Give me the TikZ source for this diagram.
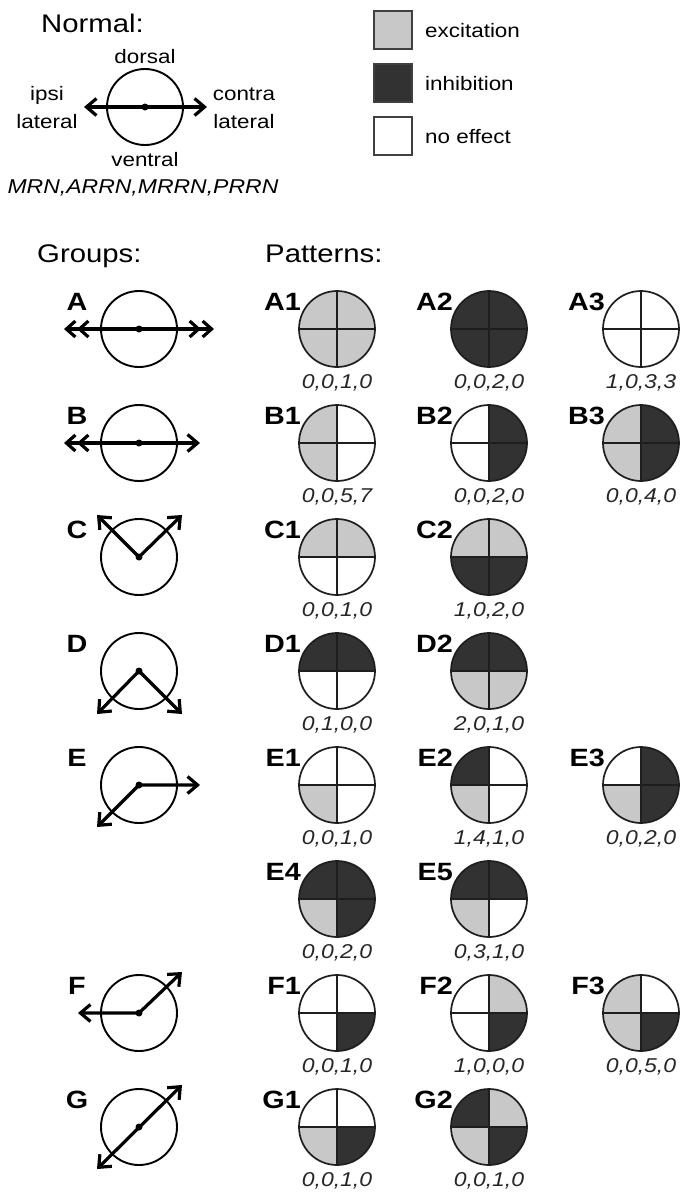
\documentclass[tikz,border=0pt]{standalone}
\usepackage{fontspec}
\setmainfont[FakeStretch=1.15]{Liberation Sans}
\usetikzlibrary{arrows.meta,calc}
\definecolor{exc}{RGB}{200,200,200}
\definecolor{inh}{RGB}{50,50,50}
\definecolor{noe}{RGB}{255,255,255}
\definecolor{rim}{RGB}{30,30,30}
\tikzset{
  txt/.style={inner sep=0pt, font=\fontsize{19.5}{19.5}\selectfont},
  head/.style={inner sep=0pt, font=\fontsize{25.5}{25.5}\selectfont},
  glab/.style={inner sep=0pt, font=\fontsize{25}{25}\selectfont\bfseries},
  nums/.style={inner sep=0pt, font=\fontsize{20}{20}\selectfont\itshape, text=black!85},
  pcirc/.style={circle, draw=rim, line width=1.7pt, minimum size=76pt, inner sep=0pt},
  gcirc/.style={circle, draw=black, line width=1.9pt, minimum size=76pt, inner sep=0pt},
  quad/.style={draw=rim, line width=1.4pt},
  legbox/.style={rectangle, draw=black!75, line width=1.7pt, minimum size=38pt, inner sep=0pt},
  vec/.style={line width=3.2pt, line join=round},
  both/.style={vec, {Straight Barb[length=10pt,width=17pt]}-{Straight Barb[length=10pt,width=17pt]}},
  dbl/.style={vec, {Straight Barb[length=9pt,width=16pt]Straight Barb[length=9pt,width=16pt]}-{Straight Barb[length=9pt,width=16pt]Straight Barb[length=9pt,width=16pt]}},
  dblone/.style={vec, {Straight Barb[length=9pt,width=16pt]Straight Barb[length=9pt,width=16pt]}-{Straight Barb[length=10pt,width=17pt]}},
  dot/.style={fill=black}
}
\newcommand\pat[8]{%
  \coordinate (c#1) at (#2,#3);
  \fill[#4] (c#1) -- ++(-38,0) arc[start angle=180,end angle=270,radius=38] -- cycle;
  \fill[#5] (c#1) -- ++(0,-38) arc[start angle=270,end angle=360,radius=38] -- cycle;
  \fill[#6] (c#1) -- ++(0,38) arc[start angle=90,end angle=180,radius=38] -- cycle;
  \fill[#7] (c#1) -- ++(38,0) arc[start angle=0,end angle=90,radius=38] -- cycle;
  \draw[quad] ($(c#1)+(-38,0)$) -- ($(c#1)+(38,0)$);
  \draw[quad] ($(c#1)+(0,-38)$) -- ($(c#1)+(0,38)$);
  \node[pcirc] (p#1) at (c#1) {};
  \node[glab, anchor=base east] (l#1) at ($(c#1)+(-36,-19)$) {#1};
  \node[nums, anchor=base] (n#1) at ($(c#1)+(0,59)$) {#8};
}
\newcommand\grp[2]{%
  \coordinate (g#1) at (139,#2);
  \node[gcirc] (G#1) at (g#1) {};
  \node[glab, anchor=base] (gl#1) at ($(g#1)+(-62,-19)$) {#1};
}
\begin{document}
\begin{tikzpicture}[x=1pt,y=-1pt]
\useasboundingbox[fill=white] (0,0) rectangle (680,1192);

% Normal
\node[head, anchor=base west] (normal) at (41,32) {Normal:};
\coordinate (nc) at (145,107);
\node[gcirc] (ncirc) at (nc) {};
\coordinate (nl) at (84,107);
\coordinate (nr) at (207,107);
\draw[both] (nl) -- (nr);
\fill[dot] (nc) circle[radius=3.5];
\node[txt, anchor=base] (dorsal) at (145,63) {dorsal};
\node[txt, anchor=base] (ventral) at (145,166) {ventral};
\node[txt, anchor=base] (ipsi) at (47,100) {ipsi};
\node[txt, anchor=base] (ipsil) at (47,128) {lateral};
\node[txt, anchor=base] (contra) at (244,100) {contra};
\node[txt, anchor=base] (contral) at (244,128) {lateral};
\node[txt, anchor=base, font=\fontsize{20}{20}\selectfont\itshape] (mrn) at (143,193) {MRN,ARRN,MRRN,PRRN};

% Legend
\node[legbox, fill=exc] (bexc) at (393,30) {};
\node[legbox, fill=inh] (binh) at (393,83) {};
\node[legbox, fill=noe] (bnoe) at (393,136) {};
\node[txt, anchor=base west] (texc) at (425,37) {excitation};
\node[txt, anchor=base west] (tinh) at (425,90) {inhibition};
\node[txt, anchor=base west] (tnoe) at (425,143) {no effect};

% Headings
\node[head, anchor=base west] (groups) at (37,262) {Groups:};
\node[head, anchor=base west] (patterns) at (265,262) {Patterns:};

% Groups
\grp{A}{329}
\coordinate (gAl) at (64,329); \coordinate (gAr) at (214,329);
\draw[dbl] (gAl) -- (gAr);
\fill[dot] (gA) circle[radius=3.5];

\grp{B}{443}
\coordinate (gBl) at (64,443); \coordinate (gBr) at (200,443);
\draw[dblone] (gBl) -- (gBr);
\fill[dot] (gB) circle[radius=3.5];

\grp{C}{557}
\coordinate (gCl) at (97,515); \coordinate (gCr) at (182,515);
\draw[both] (gCl) -- (gC) -- (gCr);
\fill[dot] (gC) circle[radius=3.5];

\grp{D}{671}
\coordinate (gDl) at (97,714); \coordinate (gDr) at (182,714);
\draw[both] (gDl) -- (gD) -- (gDr);
\fill[dot] (gD) circle[radius=3.5];

\grp{E}{785}
\coordinate (gEl) at (97,827); \coordinate (gEr) at (200,785);
\draw[both] (gEl) -- (gE) -- (gEr);
\fill[dot] (gE) circle[radius=3.5];

\grp{F}{1013}
\coordinate (gFl) at (78,1013); \coordinate (gFr) at (182,972);
\draw[both] (gFl) -- (gF) -- (gFr);
\fill[dot] (gF) circle[radius=3.5];

\grp{G}{1127}
\coordinate (gGl) at (97,1169); \coordinate (gGr) at (182,1085);
\draw[both] (gGl) -- (gGr);
\fill[dot] (gG) circle[radius=3.5];

% Patterns: UL, UR, LL, LR
\pat{A1}{337}{329}{exc}{exc}{exc}{exc}{0,0,1,0}
\pat{A2}{489}{329}{inh}{inh}{inh}{inh}{0,0,2,0}
\pat{A3}{641}{329}{noe}{noe}{noe}{noe}{1,0,3,3}
\pat{B1}{337}{443}{exc}{noe}{exc}{noe}{0,0,5,7}
\pat{B2}{489}{443}{noe}{inh}{noe}{inh}{0,0,2,0}
\pat{B3}{641}{443}{exc}{inh}{exc}{inh}{0,0,4,0}
\pat{C1}{337}{557}{exc}{exc}{noe}{noe}{0,0,1,0}
\pat{C2}{489}{557}{exc}{exc}{inh}{inh}{1,0,2,0}
\pat{D1}{337}{671}{inh}{inh}{noe}{noe}{0,1,0,0}
\pat{D2}{489}{671}{inh}{inh}{exc}{exc}{2,0,1,0}
\pat{E1}{337}{785}{noe}{noe}{exc}{noe}{0,0,1,0}
\pat{E2}{489}{785}{inh}{noe}{exc}{noe}{1,4,1,0}
\pat{E3}{641}{785}{noe}{inh}{exc}{inh}{0,0,2,0}
\pat{E4}{337}{899}{inh}{inh}{exc}{inh}{0,0,2,0}
\pat{E5}{489}{899}{inh}{inh}{exc}{noe}{0,3,1,0}
\pat{F1}{337}{1013}{noe}{noe}{noe}{inh}{0,0,1,0}
\pat{F2}{489}{1013}{noe}{exc}{noe}{inh}{1,0,0,0}
\pat{F3}{641}{1013}{exc}{noe}{exc}{inh}{0,0,5,0}
\pat{G1}{337}{1127}{noe}{noe}{exc}{inh}{0,0,1,0}
\pat{G2}{489}{1127}{inh}{exc}{exc}{inh}{0,0,1,0}
\end{tikzpicture}
\end{document}
